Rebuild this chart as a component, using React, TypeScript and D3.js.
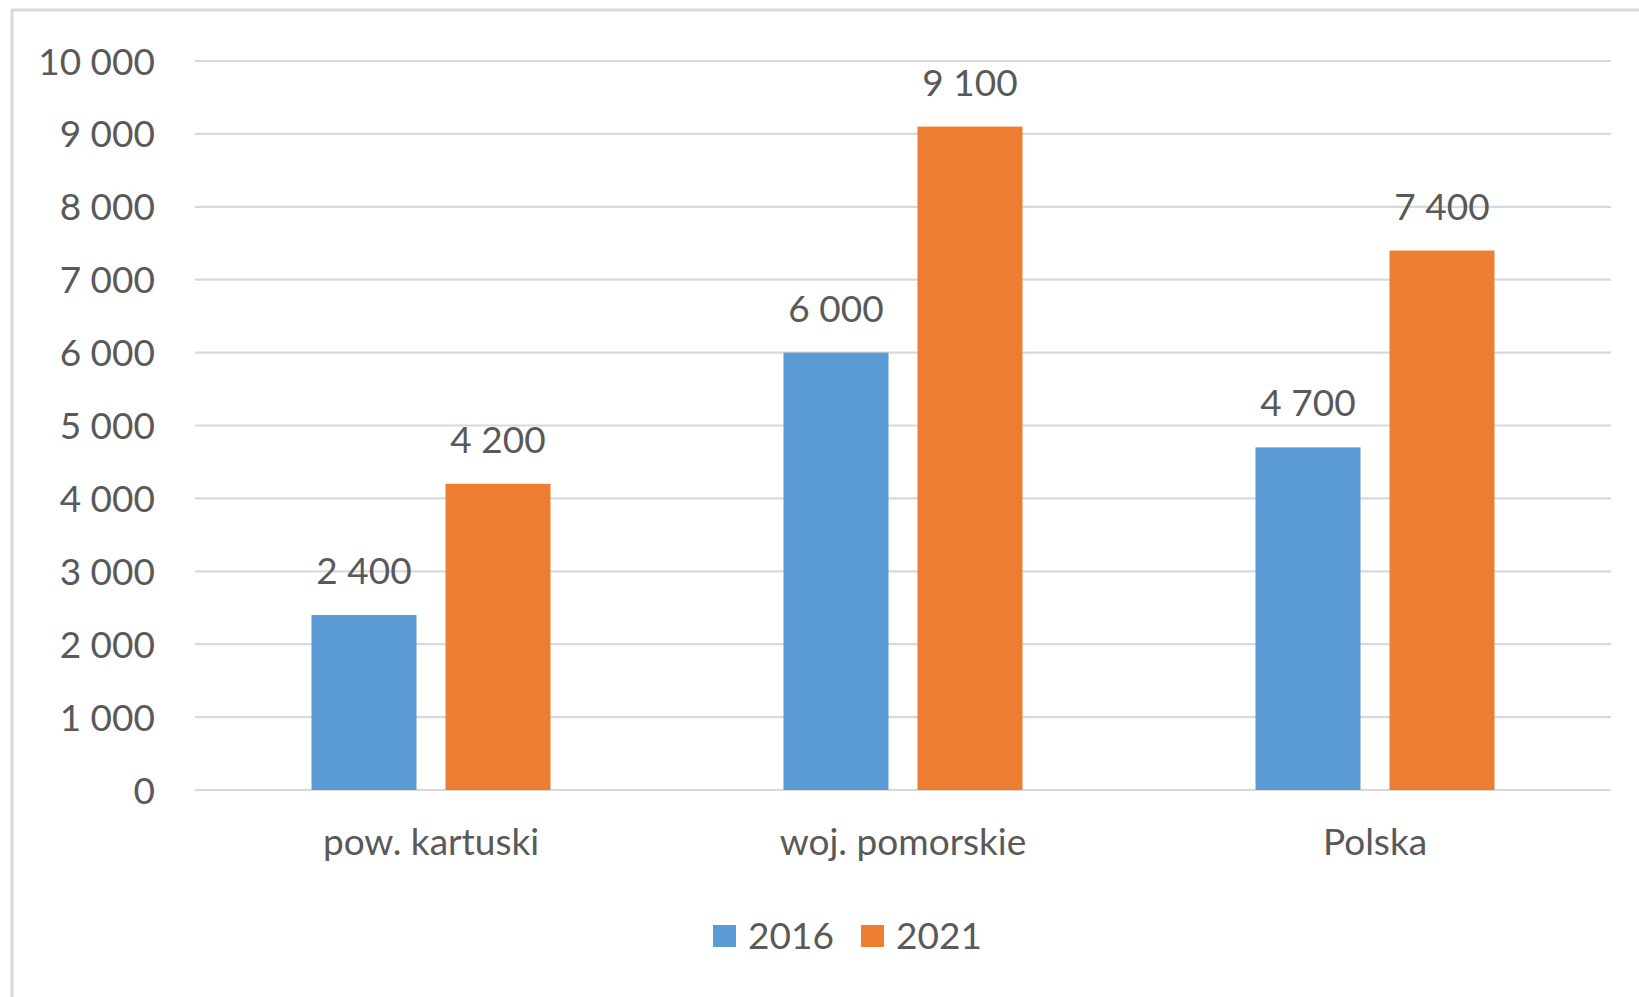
import React from "react";
import * as d3 from "d3";

const categories = ["pow. kartuski", "woj. pomorskie", "Polska"];
const seriesNames = ["2016", "2021"];
const values2016 = [2400, 6000, 4700];
const values2021 = [4200, 9100, 7400];
const yTicks = [0, 1000, 2000, 3000, 4000, 5000, 6000, 7000, 8000, 9000, 10000];
const colors = ["#5B9BD5", "#ED7D31"];

const W = 1639;
const H = 997;
const plotLeft = 195;
const plotRight = 1611;
const plotTop = 61;
const plotBottom = 790;
const FONT = "Lato, 'Open Sans', sans-serif";
const FS = 37;
const TEXT = "#595959";

const locale = d3.formatLocale({ decimal: ",", thousands: "\u00a0", grouping: [3], currency: ["", " zł"] });
const fmt = locale.format(",d");

export default function App() {
  const x0 = d3.scaleBand<string>().domain(categories).range([plotLeft, plotRight]).padding(0);
  const groupW = 239;
  const x1 = d3
    .scaleBand<string>()
    .domain(seriesNames)
    .range([x0.bandwidth() / 2 - groupW / 2, x0.bandwidth() / 2 + groupW / 2])
    .paddingInner(0.2164)
    .paddingOuter(0);
  const y = d3.scaleLinear().domain([0, 10000]).range([plotBottom, plotTop]);
  const seriesValues = [values2016, values2021];

  const legendItems = [
    { name: seriesNames[0], sx: 713, tx: 748 },
    { name: seriesNames[1], sx: 861, tx: 896 },
  ];

  return (
    <svg
      width={W}
      height={H}
      style={{ position: "absolute", left: 0, top: 0, background: "#fff" }}
      fontFamily={FONT}
    >
      <rect x={0} y={0} width={W} height={H} fill="#fff" />
      <rect x={12} y={10} width={W + 50} height={H + 50} fill="#fff" stroke="#d9d9d9" strokeWidth={3} />
      {yTicks.map((t) => (
        <g key={t}>
          <line x1={plotLeft} x2={plotRight} y1={y(t)} y2={y(t)} stroke="#d9d9d9" strokeWidth={2.2} />
          <text x={155} y={y(t) + 13.5} textAnchor="end" fontSize={FS} fill={TEXT}>
            {fmt(t)}
          </text>
        </g>
      ))}
      {categories.map((c, i) => (
        <g key={c} transform={`translate(${x0(c)},0)`}>
          {seriesNames.map((s, j) => {
            const v = seriesValues[j][i];
            const bx = x1(s)!;
            return (
              <g key={s}>
                <rect x={bx} y={y(v)} width={x1.bandwidth()} height={y(0) - y(v)} fill={colors[j]} />
                <text
                  x={bx + x1.bandwidth() / 2}
                  y={y(v) - 31}
                  textAnchor="middle"
                  fontSize={FS}
                  fill={TEXT}
                >
                  {fmt(v)}
                </text>
              </g>
            );
          })}
          <text x={x0.bandwidth() / 2} y={855} textAnchor="middle" fontSize={FS} fill={TEXT}>
            {c}
          </text>
        </g>
      ))}
      {legendItems.map((l, j) => (
        <g key={l.name}>
          <rect x={l.sx} y={925} width={23} height={22} fill={colors[j]} />
          <text x={l.tx} y={949} fontSize={FS} fill={TEXT}>
            {l.name}
          </text>
        </g>
      ))}
    </svg>
  );
}
